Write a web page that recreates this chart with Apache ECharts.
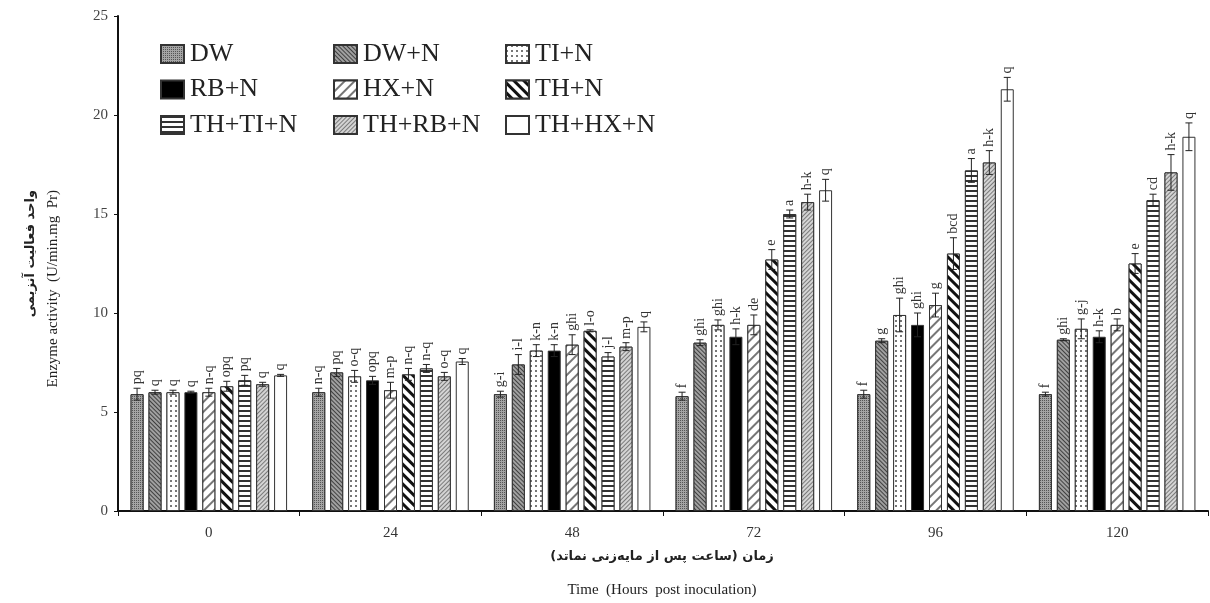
<!DOCTYPE html>
<html>
<head>
<meta charset="utf-8">
<script src="https://cdn.jsdelivr.net/npm/echarts@6/dist/echarts.min.js"></script>
<style>
  html, body { margin: 0; padding: 0; background: #fff; }
  #chart { width: 1210px; height: 603px; }
</style>
</head>
<body>
<div id="chart"></div>
<script>
// Sampling times (hours post inoculation)
const times = ['0', '24', '48', '72', '96', '120'];

// Treatments
const treatments = ['DW', 'DW+N', 'TI+N', 'RB+N', 'HX+N', 'TH+N', 'TH+TI+N', 'TH+RB+N', 'TH+HX+N'];

// Enzyme activity (U/min.mg Pr), one array per treatment, ordered by time
const dw      = [5.9, 6.0, 5.9, 5.8, 5.9, 5.9];
const dwN     = [6.0, 7.0, 7.4, 8.5, 8.6, 8.65];
const tiN     = [6.0, 6.8, 8.1, 9.4, 9.9, 9.2];
const rbN     = [6.0, 6.6, 8.1, 8.8, 9.4, 8.8];
const hxN     = [6.0, 6.1, 8.4, 9.4, 10.4, 9.4];
const thN     = [6.3, 6.9, 9.1, 12.7, 13.0, 12.5];
const thTiN   = [6.6, 7.2, 7.8, 15.0, 17.2, 15.7];
const thRbN   = [6.4, 6.8, 8.3, 15.6, 17.6, 17.1];
const thHxN   = [6.85, 7.55, 9.3, 16.2, 21.3, 18.9];

// Standard errors
const dwErr    = [0.3, 0.2, 0.15, 0.2, 0.2, 0.1];
const dwNErr   = [0.1, 0.2, 0.5, 0.15, 0.1, 0.05];
const tiNErr   = [0.1, 0.3, 0.3, 0.25, 0.85, 0.5];
const rbNErr   = [0.05, 0.2, 0.3, 0.4, 0.6, 0.3];
const hxNErr   = [0.2, 0.4, 0.5, 0.5, 0.6, 0.3];
const thNErr   = [0.25, 0.3, 0.05, 0.5, 0.8, 0.5];
const thTiNErr = [0.25, 0.2, 0.2, 0.2, 0.6, 0.3];
const thRbNErr = [0.1, 0.2, 0.2, 0.4, 0.6, 0.9];
const thHxNErr = [0.05, 0.15, 0.25, 0.55, 0.6, 0.7];

// Duncan grouping letters
const dwLet    = ['pq', 'n-q', 'g-i', 'f', 'f', 'f'];
const dwNLet   = ['q', 'pq', 'i-l', 'ghi', 'g', 'ghi'];
const tiNLet   = ['q', 'o-q', 'k-n', 'ghi', 'ghi', 'g-j'];
const rbNLet   = ['q', 'opq', 'k-n', 'h-k', 'ghi', 'h-k'];
const hxNLet   = ['n-q', 'm-p', 'ghi', 'de', 'g', 'b'];
const thNLet   = ['opq', 'n-q', 'l-o', 'e', 'bcd', 'e'];
const thTiNLet = ['pq', 'n-q', 'j-l', 'a', 'a', 'cd'];
const thRbNLet = ['q', 'o-q', 'm-p', 'h-k', 'h-k', 'h-k'];
const thHxNLet = ['q', 'q', 'q', 'q', 'q', 'q'];

const values  = [dw, dwN, tiN, rbN, hxN, thN, thTiN, thRbN, thHxN];
const errors  = [dwErr, dwNErr, tiNErr, rbNErr, hxNErr, thNErr, thTiNErr, thRbNErr, thHxNErr];
const letters = [dwLet, dwNLet, tiNLet, rbNLet, hxNLet, thNLet, thTiNLet, thRbNLet, thHxNLet];

// Axis titles
const yTitleFa = 'واحد فعالیت آنزیمی';
const yTitleEn = 'Enzyme activity  (U/min.mg  Pr)';
const xTitleFa = 'زمان (ساعت پس از مایه‌زنی نماتد)';
const xTitleEn = 'Time  (Hours  post inoculation)';

const SERIF = "'Liberation Serif', 'Times New Roman', serif";
const BAR_W = 13;
const GAP = 0.38;
const PITCH = BAR_W * (1 + GAP);

// Fill patterns for each treatment
const line = (bg, fg, thick, space, rot) => ({
  symbol: 'rect', symbolSize: 1, color: fg, backgroundColor: bg,
  dashArrayX: [1, 0], dashArrayY: [thick, space], rotation: rot
});
const fills = [
  { color: '#8d8d8d', decal: { symbol: 'rect', symbolSize: 1, color: '#555', backgroundColor: '#a4a4a4', dashArrayX: [1, 1], dashArrayY: [1, 1], rotation: 0 } },
  { color: '#7a7a7a', decal: line('#a0a0a0', '#404040', 1, 1.2, Math.PI / 4) },
  { color: '#ffffff', decal: { symbol: 'rect', symbolSize: 1, color: '#777', backgroundColor: '#fff', dashArrayX: [[1.5, 2.5]], dashArrayY: [1.5, 2.5], rotation: 0 } },
  { color: '#000000', decal: 'none' },
  { color: '#ffffff', decal: line('#ffffff', '#777777', 1.3, 4.5, -Math.PI / 4) },
  { color: '#ffffff', decal: line('#ffffff', '#111111', 3, 3.5, Math.PI / 4) },
  { color: '#ffffff', decal: line('#ffffff', '#333333', 1.2, 2.6, 0) },
  { color: '#c0c0c0', decal: line('#d4d4d4', '#7a7a7a', 1, 1.2, -Math.PI / 4) },
  { color: '#ffffff', decal: 'none' }
];

const barSeries = treatments.map((name, i) => ({
  name: name,
  type: 'bar',
  data: values[i],
  barWidth: BAR_W,
  barGap: (GAP * 100) + '%',
  itemStyle: {
    color: fills[i].color,
    decal: fills[i].decal === 'none' ? null : fills[i].decal,
    borderColor: '#333',
    borderWidth: 1
  },
  emphasis: { disabled: true }
}));

// Error bars and letters, one item per bar
const errData = [];
treatments.forEach((name, s) => {
  times.forEach((t, c) => {
    errData.push([c, values[s][c], errors[s][c], s, letters[s][c]]);
  });
});

const errSeries = {
  type: 'custom',
  name: 'err',
  data: errData,
  z: 5,
  silent: true,
  renderItem: function (params, api) {
    const c = api.value(0), v = api.value(1), e = api.value(2), s = api.value(3);
    const txt = errData[params.dataIndex][4];
    const ctr = api.coord([c, v]);
    const x = ctr[0] + (s - 4) * PITCH;
    const yT = api.coord([c, v + e])[1];
    const yB = api.coord([c, v - e])[1];
    const st = { stroke: '#222', lineWidth: 1 };
    return {
      type: 'group',
      children: [
        { type: 'line', shape: { x1: x, y1: yT, x2: x, y2: yB }, style: st },
        { type: 'line', shape: { x1: x - 3.5, y1: yT, x2: x + 3.5, y2: yT }, style: st },
        { type: 'line', shape: { x1: x - 3.5, y1: yB, x2: x + 3.5, y2: yB }, style: st },
        {
          type: 'text', x: x, y: yT - 4, rotation: Math.PI / 2,
          style: { text: txt, fill: '#333', font: '14px ' + SERIF, align: 'left', verticalAlign: 'middle' }
        }
      ]
    };
  }
};

const legendCol = (names, left) => ({
  data: names,
  orient: 'vertical',
  left: left,
  top: 36,
  icon: 'rect',
  itemWidth: 23,
  itemHeight: 18,
  itemGap: 9.5,
  selectedMode: false,
  textStyle: { fontFamily: SERIF, fontSize: 26, lineHeight: 22, color: '#222', padding: [0, 0, 0, 1] }
});

const chart = echarts.init(document.getElementById('chart'));
chart.setOption({
  animation: false,
  backgroundColor: '#fff',
  grid: { left: 118, right: 2, top: 16, bottom: 92, containLabel: false, outerBoundsMode: 'none' },
  legend: [
    legendCol(['DW', 'RB+N', 'TH+TI+N'], 155),
    legendCol(['DW+N', 'HX+N', 'TH+RB+N'], 328),
    legendCol(['TI+N', 'TH+N', 'TH+HX+N'], 500)
  ],
  graphic: [
    { type: 'text', x: 31, y: 190, rotation: Math.PI / 2, silent: true,
      style: { text: yTitleFa, font: 'bold 13px "DejaVu Sans"', fill: '#222', align: 'right', verticalAlign: 'middle' } },
    { type: 'text', x: 53, y: 190, rotation: Math.PI / 2, silent: true,
      style: { text: yTitleEn, font: '15px ' + SERIF, fill: '#222', align: 'right', verticalAlign: 'middle' } },
    { type: 'text', x: 662, y: 557, silent: true,
      style: { text: xTitleFa, font: 'bold 13px "DejaVu Sans"', fill: '#222', align: 'center', verticalAlign: 'middle' } },
    { type: 'text', x: 662, y: 590, silent: true,
      style: { text: xTitleEn, font: '15px ' + SERIF, fill: '#222', align: 'center', verticalAlign: 'middle' } }
  ],
  xAxis: {
    type: 'category',
    data: times,
    axisLine: { lineStyle: { color: '#111', width: 2 } },
    axisTick: { show: true, length: 5, lineStyle: { color: '#111' } },
    axisLabel: { fontFamily: SERIF, fontSize: 15, color: '#333', margin: 15 }
  },
  yAxis: {
    type: 'value',
    min: 0,
    max: 25,
    interval: 5,
    splitLine: { show: false },
    axisLine: { show: true, lineStyle: { color: '#111', width: 2 } },
    axisTick: { show: true, length: 4, lineStyle: { color: '#111' } },
    axisLabel: { fontFamily: SERIF, fontSize: 15, color: '#444', margin: 10 }
  },
  series: barSeries.concat([errSeries])
});
</script>
</body>
</html>
